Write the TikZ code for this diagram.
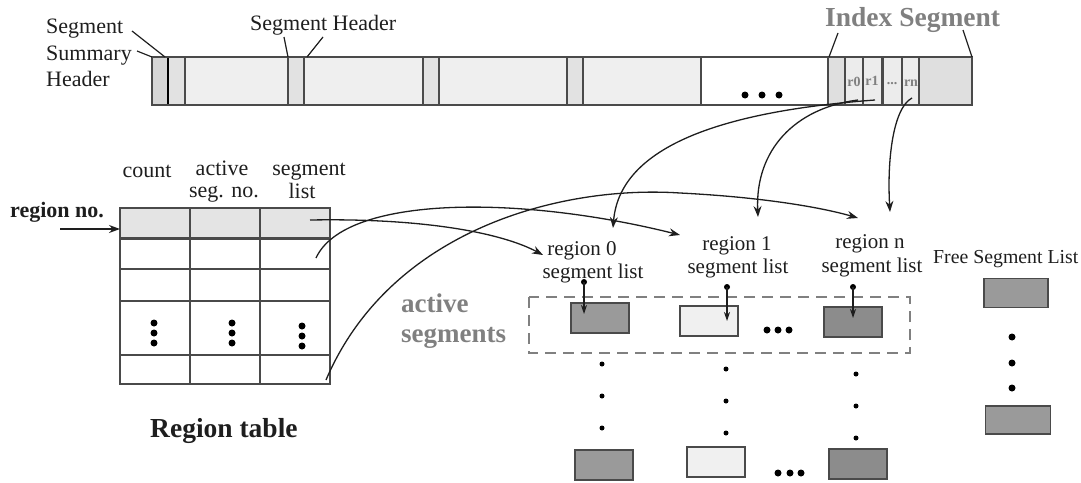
\documentclass[tikz,border=0pt]{standalone}
\usepackage{fontspec}
\setmainfont{Liberation Serif}
\usetikzlibrary{arrows.meta,patterns}
\definecolor{txtc}{HTML}{1E1E1E}
\definecolor{graytxt}{HTML}{808080}
\definecolor{barlight}{HTML}{EFEFEF}
\definecolor{hdrfill}{HTML}{E2E2E2}
\definecolor{sumfill}{HTML}{D6D6D6}
\definecolor{idxfill}{HTML}{DFDFDF}
\definecolor{rfill}{HTML}{ECECEC}
\definecolor{edge}{HTML}{4A4A4A}
\definecolor{darkbox}{HTML}{9A9A9A}
\definecolor{lightbox}{HTML}{F0F0F0}
\definecolor{dotbox}{HTML}{8C8C8C}
\definecolor{tabhdr}{HTML}{E4E4E4}
\begin{document}
\begin{tikzpicture}[x=1pt,y=-1pt,
  lbl/.style={inner sep=0pt, anchor=base west, text=txtc, font=\fontsize{22}{26}\selectfont},
  lblb/.style={lbl, font=\fontsize{22}{26}\selectfont\bfseries},
  lblr/.style={inner sep=0pt, anchor=base, text=txtc, font=\fontsize{21}{24}\selectfont},
  lblg/.style={inner sep=0pt, anchor=base west, text=graytxt, font=\fontsize{27}{30}\selectfont\bfseries},
  rlbl/.style={inner sep=0pt, text=graytxt, font=\fontsize{14}{14}\selectfont\bfseries},
  conn/.style={draw=txtc, line width=1.3pt, -{Stealth[length=11pt,width=8pt]}},
  leader/.style={draw=txtc, line width=1.2pt},
  segbox/.style={draw=edge, line width=1.6pt, minimum width=58pt, minimum height=30pt, inner sep=0pt},
  rbox/.style={draw=edge, line width=1.8pt, fill=rfill},
  tline/.style={draw=edge, line width=1.8pt},
  bigdot/.style={circle, fill=black, inner sep=0pt, minimum size=7pt},
  smalldot/.style={circle, fill=black, inner sep=0pt, minimum size=5pt},
  ptrdot/.style={circle, fill=black, inner sep=0pt, minimum size=6pt}
]
\useasboundingbox (0,0) rectangle (1081,482);

% ---------- top bar ----------
\fill[barlight] (152,57) rectangle (701,105);
\fill[sumfill] (152,57) rectangle (168,105);
\fill[hdrfill] (168,57) rectangle (185,105);
\fill[hdrfill] (288,57) rectangle (304,105);
\fill[hdrfill] (423,57) rectangle (439,105);
\fill[hdrfill] (567,57) rectangle (583,105);
\fill[white] (701,57) rectangle (828,105);
\fill[idxfill] (828,57) rectangle (972,105);
\foreach \x in {185,288,304,423,439,567,583,701,828}
  \draw[edge, line width=1.6pt] (\x,57) -- (\x,105);
\draw[black, line width=2.4pt] (168,57) -- (168,105);
\draw[edge, line width=1.4pt] (152,57) rectangle (972,105);
\node[bigdot] (bd1) at (745,95) {};
\node[bigdot] (bd2) at (762,95) {};
\node[bigdot] (bd3) at (779,95) {};
% index segment slots
\draw[rbox] (845,57) rectangle (863,105);
\draw[rbox] (863,57) rectangle (882,105);
\draw[rbox] (883,57) rectangle (902,105);
\draw[rbox] (902,57) rectangle (919,105);
\node[rlbl] (r0) at (854,82) {r0};
\node[rlbl] (r1) at (872,81) {r1};
\node[rlbl] (rd) at (892,84) {...};
\node[rlbl] (rn) at (911,83) {rn};

% ---------- top labels ----------
\node[lbl] (lseg) at (46,33) {Segment};
\node[lbl] (lsum) at (46,60) {Summary};
\node[lbl] (lhdr) at (46,86) {Header};
\coordinate (ssa) at (165,57);
\coordinate (ssb) at (152,57);
\draw[leader] (132,31) -- (ssa);
\draw[leader] (137,51) -- (ssb);
\node[lbl] (lsh) at (250,30) {Segment Header};
\coordinate (sha) at (288,57);
\coordinate (shb) at (307,57);
\draw[leader] (284,37) -- (sha);
\draw[leader] (323,37) -- (shb);
\node[lblg, font=\fontsize{27.5}{30}\selectfont\bfseries] (lidx) at (825,26) {Index Segment};
\coordinate (ixa) at (829,57);
\coordinate (ixb) at (972,57);
\draw[leader] (838,33) -- (ixa);
\draw[leader] (963,30) -- (ixb);

% ---------- region table ----------
\fill[tabhdr] (120,208) rectangle (330,238);
\foreach \y in {269,301,355}
  \draw[edge, line width=1.5pt] (120,\y) -- (330,\y);
\draw[edge, line width=3pt] (120,238) -- (330,238);
\draw[tline] (120,208) rectangle (330,384);
\draw[tline] (190,208) -- (190,384);
\draw[tline] (260,208) -- (260,384);
\foreach \x/\d in {154/0,232/0,302/3}{
  \node[bigdot] at (\x,{323+\d}) {};
  \node[bigdot] at (\x,{333+\d}) {};
  \node[bigdot] at (\x,{343+\d}) {};
}
\node[lbl, anchor=base] (hc) at (147,177) {count};
\node[lbl, anchor=base] (ha1) at (222,175) {active};
\node[lbl, anchor=base] (ha2) at (224,197) {seg. no.};
\node[lbl, anchor=base] (hs1) at (309,175) {segment};
\node[lbl, anchor=base] (hs2) at (302,198) {list};
\node[lblb] (rno) at (10,217) {region no.};
\coordinate (rnoa) at (60,229);
\coordinate (rnob) at (120,229);
\draw[conn] (rnoa) -- (rnob);
\node[lbl, font=\fontsize{27.5}{30}\selectfont\bfseries] (rtab) at (150,437) {Region table};

% ---------- active segments ----------
\draw[graytxt, line width=2.6pt, dash pattern=on 11pt off 7pt] (529,297) rectangle (910,353);
\node[lblg] (act1) at (401,312) {active};
\node[lblg] (act2) at (401,342) {segments};

\node[lblr] (reg0a) at (582,255) {region 0};
\node[lblr] (reg0b) at (593,278) {segment list};
\node[lblr] (reg1a) at (737,250) {region 1};
\node[lblr] (reg1b) at (738,273) {segment list};
\node[lblr] (regna) at (870,248) {region n};
\node[lblr] (regnb) at (872,272) {segment list};

\node[segbox, fill=darkbox] (a0) at (600,318) {};
\node[segbox, fill=lightbox] (a1) at (709,321) {};
\node[segbox, fill=dotbox] (an) at (853,322) {};
\node[bigdot] at (767,330) {};
\node[bigdot] at (778,330) {};
\node[bigdot] at (789,330) {};

\node[ptrdot] (p0) at (584,282) {};
\node[ptrdot] (p1) at (727,287) {};
\node[ptrdot] (pn) at (853,287) {};
\coordinate (q0) at (584,314);
\coordinate (q1) at (727,321);
\coordinate (qn) at (853,318);
\draw[conn, line width=1.1pt, -{Stealth[length=9pt,width=6pt]}] (p0.center) -- (q0);
\draw[conn, line width=1.1pt, -{Stealth[length=9pt,width=6pt]}] (p1.center) -- (q1);
\draw[conn, line width=1.1pt, -{Stealth[length=9pt,width=6pt]}] (pn.center) -- (qn);

\foreach \y in {364,396,428} \node[smalldot] at (602,\y) {};
\foreach \y in {369,401,433} \node[smalldot] at (726,\y) {};
\foreach \y in {374,406,438} \node[smalldot] at (856,\y) {};

\node[segbox, fill=darkbox] (b0) at (604,465) {};
\node[segbox, fill=lightbox] (b1) at (716,462) {};
\node[segbox, fill=dotbox] (bn) at (858,464) {};
\node[bigdot] at (778,473) {};
\node[bigdot] at (790,473) {};
\node[bigdot] at (801,473) {};

% ---------- free segment list ----------
\node[lbl, font=\fontsize{19.8}{24}\selectfont] (fsl) at (933,263) {Free Segment List};
\node[segbox, fill=darkbox, minimum width=64pt, minimum height=29pt] (f0) at (1016,293) {};
\node[segbox, fill=darkbox, minimum width=65pt, minimum height=28pt] (f1) at (1018,420) {};
\foreach \y in {337,363,388} \node[bigdot] at (1012,\y) {};

% ---------- curved connectors ----------
\coordinate (cA) at (310,220);
\coordinate (eA) at (543,255);
\draw[conn] (cA) .. controls (420,218) and (500,232) .. (eA);
\coordinate (cB) at (316,258);
\coordinate (eB) at (680,235);
\draw[conn] (cB) .. controls (345,195) and (520,195) .. (eB);
\coordinate (cC) at (326,380);
\coordinate (eC) at (858,218);
\draw[conn] (cC) .. controls (390,230) and (560,185) .. (680,193) .. controls (760,197) and (820,207) .. (eC);
\coordinate (cD) at (875,100);
\coordinate (eD) at (613,228);
\draw[conn] (cD) .. controls (740,110) and (620,140) .. (eD);
\coordinate (cE) at (858,100);
\coordinate (eE) at (758,217);
\draw[conn] (cE) .. controls (795,108) and (755,150) .. (eE);
\coordinate (cF) at (912,98);
\coordinate (eF) at (890,212);
\draw[conn] (cF) .. controls (893,108) and (887,160) .. (eF);
\end{tikzpicture}
\end{document}
